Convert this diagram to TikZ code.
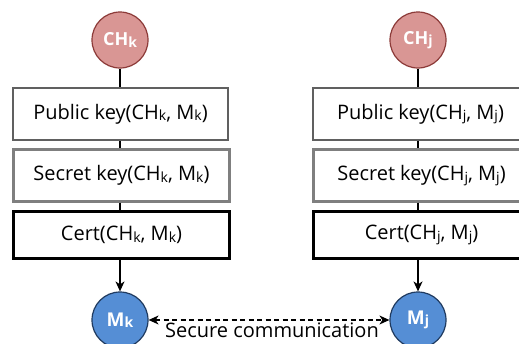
\documentclass[tikz,border=0pt]{standalone}
\usepackage{fontspec}
\setmainfont{Open Sans}
\usetikzlibrary{arrows.meta}
\definecolor{chfill}{HTML}{D99694}
\definecolor{chdraw}{HTML}{8C3A38}
\definecolor{mfill}{HTML}{558ED5}
\definecolor{mdraw}{HTML}{1F3A5F}
\definecolor{boxgrayA}{HTML}{606060}
\definecolor{boxgrayB}{HTML}{7F7F7F}
\newcommand\subs[1]{\raisebox{-0.15ex}{\fontsize{14}{14}\selectfont #1}}
\begin{document}
\begin{tikzpicture}[x=1pt,y=-1pt,
  txt/.style={font=\fontsize{20}{22}\selectfont},
  chnode/.style={circle,fill=chfill,draw=chdraw,line width=1.2pt,minimum size=56pt,inner sep=0pt,text=white,font=\fontsize{18}{18}\selectfont\bfseries},
  mnode/.style={circle,fill=mfill,draw=mdraw,line width=1.2pt,minimum size=56pt,inner sep=0pt,text=white,font=\fontsize{19}{19}\selectfont\bfseries},
  pubbox/.style={rectangle,draw=boxgrayA,line width=1.6pt,minimum width=215pt,minimum height=52pt,inner sep=0pt,fill=white,txt},
  secbox/.style={rectangle,draw=boxgrayB,line width=2.4pt,minimum width=216pt,minimum height=52pt,inner sep=0pt,fill=white,txt},
  certbox/.style={rectangle,draw=black,line width=2.6pt,minimum width=216pt,minimum height=47pt,inner sep=0pt,fill=white,txt},
  link/.style={draw=black,line width=1.4pt},
  arr/.style={draw=black,line width=1.4pt,-{Stealth[length=10pt,width=9pt,inset=3pt]}},
  darr/.style={draw=black,line width=1.3pt,dashed,dash pattern=on 5pt off 3.5pt,{Stealth[length=10pt,width=9pt,inset=3pt]}-{Stealth[length=10pt,width=9pt,inset=3pt]}}
]
\useasboundingbox (0,0) rectangle (519,343);
\clip (0,0) rectangle (519,343);
% left column
\node[chnode] (chk) at (120,40) {CH\subs{k}};
\node[pubbox] (pubk) at (120.5,114) {Public key(CH\subs{k}, M\subs{k})};
\node[secbox] (seck) at (121.5,175.5) {Secret key(CH\subs{k}, M\subs{k})};
\node[certbox] (certk) at (121.5,235) {Cert(CH\subs{k}, M\subs{k})};
\node[mnode] (mk) at (120,320) {M\subs{k}};
% right column
\node[chnode] (chj) at (418,40) {CH\subs{j}};
\node[pubbox] (pubj) at (420.5,114) {Public key(CH\subs{j}, M\subs{j})};
\node[secbox] (secj) at (421.5,175.5) {Secret key(CH\subs{j}, M\subs{j})};
\node[certbox] (certj) at (421.5,235) {Cert(CH\subs{j}, M\subs{j})};
\node[mnode] (mj) at (418,320) {M\subs{j}};
% connectors
\draw[link] (chk) -- (chk |- pubk.north);
\draw[link] (chk |- pubk.south) -- (chk |- seck.north);
\draw[link] (chk |- seck.south) -- (chk |- certk.north);
\draw[arr] (chk |- certk.south) -- (mk);
\draw[link] (chj) -- (chj |- pubj.north);
\draw[link] (chj |- pubj.south) -- (chj |- secj.north);
\draw[link] (chj |- secj.south) -- (chj |- certj.north);
\draw[arr] (chj |- certj.south) -- (mj);
\draw[darr] (mk) -- node[below=-1pt,xshift=3pt,txt] (lbl) {Secure communication} (mj);
\end{tikzpicture}
\end{document}
